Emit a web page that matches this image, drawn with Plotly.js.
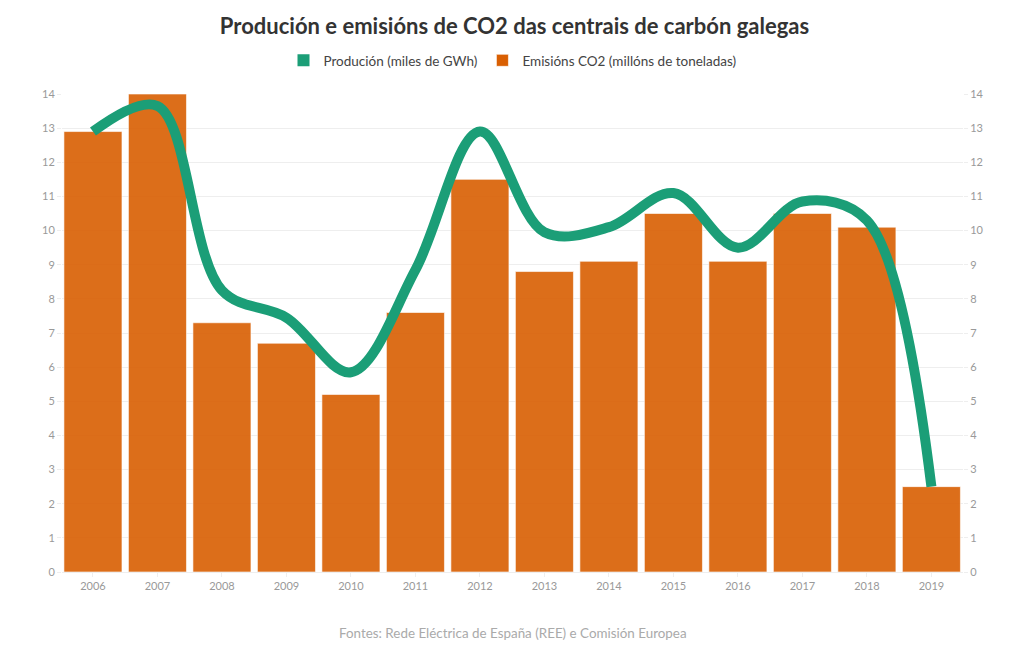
<!DOCTYPE html>
<html>
<head>
<meta charset="utf-8">
<script src="https://cdn.plot.ly/plotly-3.0.1.min.js"></script>
<style>
  html, body { margin: 0; padding: 0; background: #fff; }
  #chart { width: 1029px; height: 650px; }
</style>
</head>
<body>
<div id="chart"></div>
<script>
// valores
const years = ['2006', '2007', '2008', '2009', '2010', '2011', '2012',
               '2013', '2014', '2015', '2016', '2017', '2018', '2019'];
const emisions = [12.9, 14.0, 7.3, 6.7, 5.2, 7.6, 11.5, 8.8, 9.1, 10.5, 9.1, 10.5, 10.1, 2.5];
const producion = [12.9, 13.65, 8.25, 7.45, 5.85, 8.85, 12.9, 9.95, 10.1, 11.1, 9.5, 10.85, 10.3, 2.5];
const yTicks = [0, 1, 2, 3, 4, 5, 6, 7, 8, 9, 10, 11, 12, 13, 14];

const green = '#1b9e77';
const orange = '#d95f02';
const font = 'Lato, "Noto Sans", sans-serif';

// traza só para a lenda (cadrado verde como no orixinal)
const legendProd = {
  x: [null], y: [null], type: 'bar', name: 'Produción (miles de GWh)',
  marker: { color: green }, legendgroup: 'prod', hoverinfo: 'skip'
};

const bars = {
  x: years, y: emisions, type: 'bar', name: 'Emisións CO2 (millóns de toneladas)',
  marker: { color: orange, opacity: 0.9, line: { color: 'rgba(255,255,255,0.6)', width: 1 } }
};

const line = {
  x: years, y: producion, type: 'scatter', mode: 'lines',
  name: 'Produción (miles de GWh)', yaxis: 'y2',
  legendgroup: 'prod', showlegend: false,
  line: { color: green, width: 10, shape: 'spline', smoothing: 1 }
};

const axisY = {
  range: [0, 14], tickvals: yTicks, ticks: 'outside', ticklen: 4,
  tickcolor: '#eee', gridcolor: '#eee', zeroline: false, fixedrange: true,
  tickfont: { size: 11, color: '#999' }
};

const layout = {
  width: 1029, height: 650,
  margin: { l: 62, r: 66, t: 94, b: 78 },
  font: { family: font, color: '#444' },
  paper_bgcolor: 'white', plot_bgcolor: 'white',
  title: {
    text: '<b>Produción e emisións de CO2 das centrais de carbón galegas</b>',
    x: 0.5, xanchor: 'center', y: 0.96, yanchor: 'middle',
    font: { size: 22, color: '#333', family: font }
  },
  barmode: 'overlay',
  bargap: 0.1,
  showlegend: true,
  legend: {
    orientation: 'h', x: 0.5, xanchor: 'center', y: 1.07, yanchor: 'middle',
    font: { size: 13.5, color: '#444' }, traceorder: 'normal'
  },
  xaxis: {
    type: 'category', range: [-0.48, 13.49], ticks: 'outside', ticklen: 4,
    tickcolor: '#eee', showline: true, linecolor: '#eee', showgrid: false,
    tickfont: { size: 11, color: '#999' }, fixedrange: true
  },
  yaxis: Object.assign({}, axisY),
  yaxis2: Object.assign({}, axisY, { overlaying: 'y', side: 'right', showgrid: false }),
  annotations: [{
    text: 'Fontes: Rede Eléctrica de España (REE) e Comisión Europea',
    xref: 'paper', yref: 'paper', x: 0.5, y: -0.128,
    xanchor: 'center', yanchor: 'middle', showarrow: false,
    font: { size: 13.4, color: '#aaa' }
  }]
};

Plotly.newPlot('chart', [legendProd, bars, line], layout, { displayModeBar: false });
</script>
</body>
</html>
